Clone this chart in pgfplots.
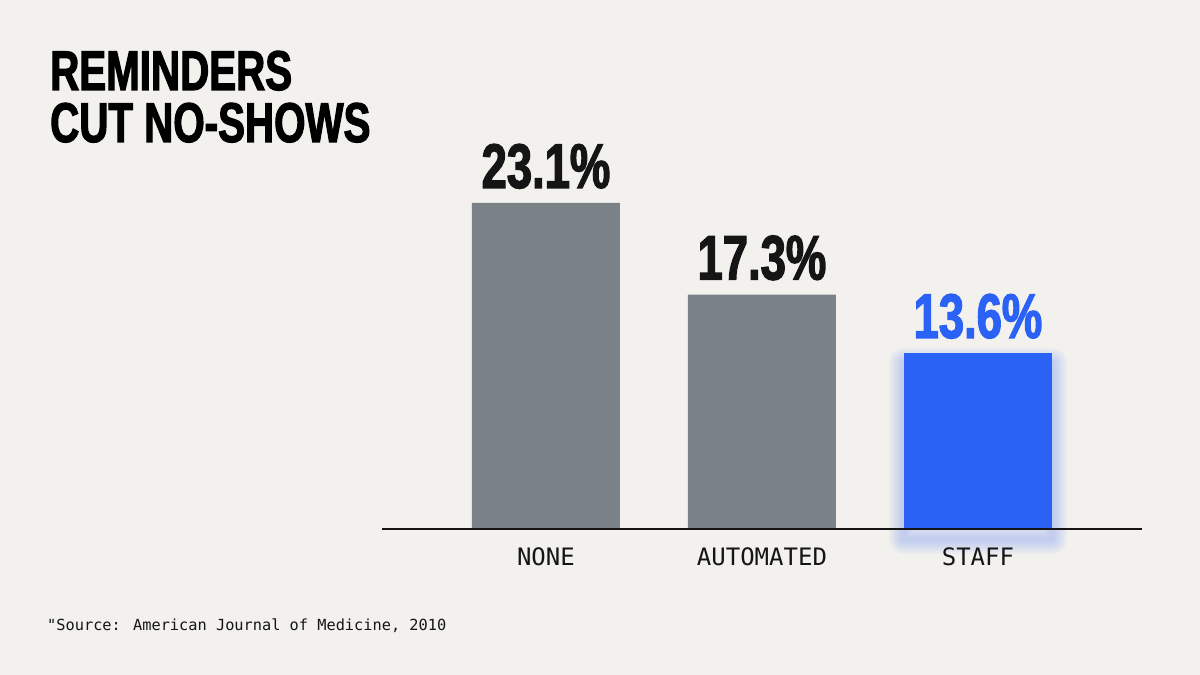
\documentclass[border=0pt]{standalone}
\usepackage{fontspec}
\usepackage{pgfplots}
\pgfplotsset{compat=1.18}
\setmainfont{Liberation Sans}
\newfontfamily\headfont{Liberation Sans}[UprightFont=* Bold, FakeStretch=0.72, FakeBold=2]
\newfontfamily\monofont{DejaVu Sans Mono}

\definecolor{bgpaper}{HTML}{F2F1EE}
\definecolor{barGray}{HTML}{7A8288}
\definecolor{barBlue}{HTML}{2B62F6}
\definecolor{inkDark}{HTML}{151515}

\begin{document}
\begin{tikzpicture}[x=1pt,y=1pt]
  % canvas
  \fill[bgpaper] (0,0) rectangle (1200,675);
  \useasboundingbox (0,0) rectangle (1200,675);

  % headline, one node per line
  \tikzset{headline/.style={anchor=base west, inner sep=0, text=black,
        font={\headfont\fontsize{56}{52}\selectfont}}}
  \node[headline] at (50,585) {REMINDERS};
  \node[headline] at (50,533) {CUT NO-SHOWS};

  % source note
  \node[anchor=base west, inner sep=0, text=inkDark,
        font={\monofont\fontsize{15.3}{18}\selectfont}] at (47,45)
        {"Source: American Journal of Medicine, 2010};

  \begin{axis}[
    at={(382pt,146pt)}, anchor=south west,
    x=216pt, y=15.79pt,
    xmin=-0.759, xmax=2.759,
    ymin=2.45, ymax=27,
    clip=false,
    axis on top,
    ybar, bar width=148pt, bar shift=0pt,
    axis x line=bottom,
    axis y line=none,
    x axis line style={draw=inkDark, line width=2pt, -},
    xtick={0,1,2},
    xticklabels={NONE, AUTOMATED, STAFF},
    major tick length=0pt,
    xticklabel style={anchor=base, yshift=-37pt, inner sep=0pt,
                      text=inkDark, font={\monofont\fontsize{24}{28}\selectfont}},
    nodes near coords={\pgfmathprintnumber[fixed, fixed zerofill, precision=1,
                       assume math mode=true]{\pgfplotspointmeta}\%},
    every node near coord/.append style={anchor=base, yshift=15pt, inner sep=0pt,
                       font={\headfont\fontsize{63}{63}\selectfont}},
    glow/.style={preaction={fill=none, draw=barBlue, draw opacity=0.035, line width=#1,
                 line join=round, transform canvas={yshift=-10pt}}},
  ]
    % reminder-free and automated reminders
    \addplot[fill=barGray, draw=none,
             every node near coord/.append style={text=inkDark}]
      coordinates {(0,23.1) (1,17.3)};
    % staff reminders, with a soft blue glow underneath
    \addplot[fill=barBlue, draw=none,
             every node near coord/.append style={text=barBlue},
             glow=30pt, glow=26pt, glow=22pt, glow=18pt, glow=14pt, glow=10pt, glow=6pt,
            ]
      coordinates {(2,13.6)};
  \end{axis}
\end{tikzpicture}
\end{document}
